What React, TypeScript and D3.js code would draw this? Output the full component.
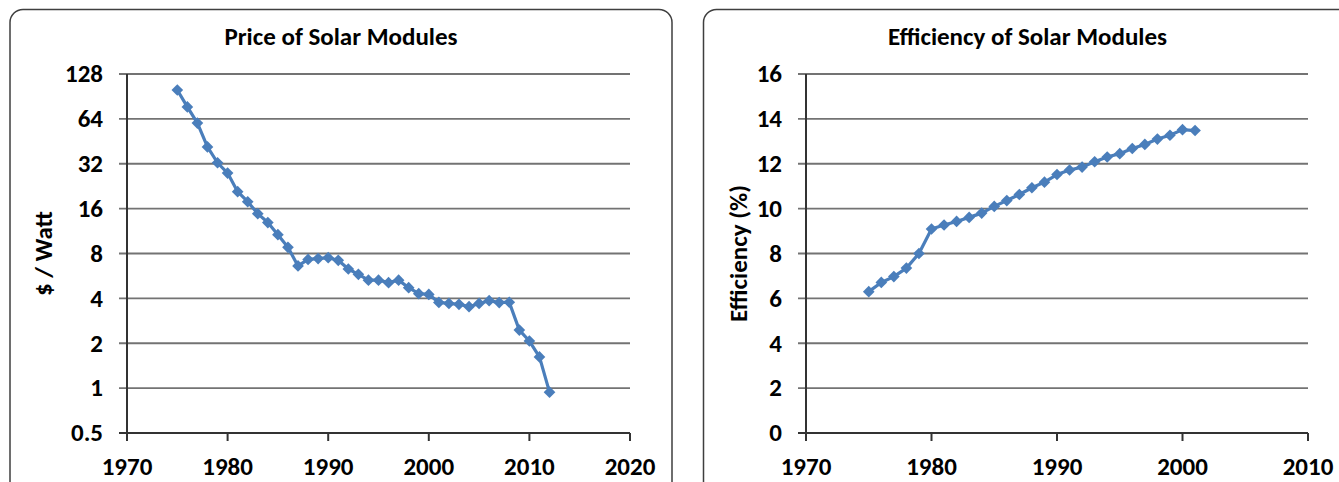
import React, { useEffect, useRef } from 'react';
import * as d3 from 'd3';

// price of solar modules, $ / Watt (log scale)
const priceYears = [1975, 1976, 1977, 1978, 1979, 1980, 1981, 1982, 1983, 1984, 1985, 1986, 1987, 1988, 1989, 1990, 1991, 1992, 1993, 1994, 1995, 1996, 1997, 1998, 1999, 2000, 2001, 2002, 2003, 2004, 2005, 2006, 2007, 2008, 2009, 2010, 2011, 2012];
const priceValues = [100, 77, 60, 41.5, 32.5, 27.7, 20.8, 17.8, 14.8, 12.9, 10.7, 8.8, 6.6, 7.3, 7.4, 7.5, 7.2, 6.3, 5.8, 5.3, 5.3, 5.1, 5.3, 4.72, 4.3, 4.25, 3.76, 3.7, 3.65, 3.52, 3.7, 3.86, 3.75, 3.77, 2.45, 2.07, 1.62, 0.94];
const priceTicks = [0.5, 1, 2, 4, 8, 16, 32, 64, 128];

// efficiency of solar modules, %
const effYears = [1975, 1976, 1977, 1978, 1979, 1980, 1981, 1982, 1983, 1984, 1985, 1986, 1987, 1988, 1989, 1990, 1991, 1992, 1993, 1994, 1995, 1996, 1997, 1998, 1999, 2000, 2001];
const effValues = [6.3, 6.71, 6.97, 7.35, 8.0, 9.09, 9.27, 9.43, 9.61, 9.8, 10.1, 10.36, 10.63, 10.93, 11.18, 11.52, 11.72, 11.85, 12.09, 12.3, 12.45, 12.68, 12.86, 13.1, 13.27, 13.52, 13.48];
const effTicks = [0, 2, 4, 6, 8, 10, 12, 14, 16];

const priceYearTicks = [1970, 1980, 1990, 2000, 2010, 2020];
const effYearTicks = [1970, 1980, 1990, 2000, 2010];

const FONT = "Carlito, Calibri, Lato, 'Open Sans', sans-serif";
const BLUE = '#4a7ebb';
const FS = '25px';

function drawPanel(svg, opts) {
    const { box, x, y, yTicks, xTicks, title, yLabel, labelOffset, years, values } = opts;
    const g = svg.append('g');
    const [x0, x1] = x.range();
    const [yBottom, yTop] = y.range();

    g.append('rect')
        .attr('x', box.x).attr('y', box.y)
        .attr('width', box.w).attr('height', box.h)
        .attr('rx', 13).attr('ry', 13)
        .attr('fill', '#fff')
        .attr('stroke', '#3f3f3f')
        .attr('stroke-width', 1.5);

    g.append('text')
        .attr('x', box.x + box.w / 2)
        .attr('y', 45)
        .attr('text-anchor', 'middle')
        .style('font-family', FONT)
        .style('font-weight', 700)
        .style('font-size', FS)
        .text(title);

    // gridlines (with the left tick folded in)
    g.selectAll('.grid')
        .data(yTicks.slice(1))
        .enter().append('line')
        .attr('x1', x0 - 8).attr('x2', x1)
        .attr('y1', d => y(d)).attr('y2', d => y(d))
        .attr('stroke', '#737373')
        .attr('stroke-width', 1.8);

    // x axis line + ticks
    g.append('line')
        .attr('x1', x0 - 8).attr('x2', x1)
        .attr('y1', yBottom).attr('y2', yBottom)
        .attr('stroke', '#333').attr('stroke-width', 2);
    g.selectAll('.xt')
        .data(xTicks)
        .enter().append('line')
        .attr('x1', d => x(d)).attr('x2', d => x(d))
        .attr('y1', yBottom).attr('y2', yBottom + 8)
        .attr('stroke', '#333').attr('stroke-width', 2);

    // y axis line
    g.append('line')
        .attr('x1', x0).attr('x2', x0)
        .attr('y1', yTop).attr('y2', yBottom + 8)
        .attr('stroke', '#333').attr('stroke-width', 2);

    g.selectAll('.yl')
        .data(yTicks)
        .enter().append('text')
        .attr('x', x0 - 24)
        .attr('y', d => y(d))
        .attr('dy', '0.33em')
        .attr('text-anchor', 'end')
        .style('font-family', FONT)
        .style('font-weight', 700)
        .style('font-size', FS)
        .text(d => String(d));

    g.selectAll('.xl')
        .data(xTicks)
        .enter().append('text')
        .attr('x', d => x(d))
        .attr('y', 475)
        .attr('text-anchor', 'middle')
        .style('font-family', FONT)
        .style('font-weight', 700)
        .style('font-size', FS)
        .text(d => d);

    g.append('text')
        .attr('transform', `translate(${x0 - labelOffset},${(yTop + yBottom) / 2}) rotate(-90)`)
        .attr('text-anchor', 'middle')
        .attr('dy', '0.33em')
        .style('font-family', FONT)
        .style('font-weight', 700)
        .style('font-size', FS)
        .text(yLabel);

    const pts = years.map((yr, i) => [yr, values[i]]);
    const line = d3.line().x(d => x(d[0])).y(d => y(d[1]));
    g.append('path')
        .datum(pts)
        .attr('d', line)
        .attr('fill', 'none')
        .attr('stroke', BLUE)
        .attr('stroke-width', 3.2)
        .attr('stroke-linejoin', 'round');

    const sym = d3.symbol().type(d3.symbolSquare).size(68);
    g.selectAll('.mk')
        .data(pts)
        .enter().append('path')
        .attr('d', sym)
        .attr('transform', d => `translate(${x(d[0])},${y(d[1])}) rotate(45)`)
        .attr('fill', BLUE);
}

export default function App() {
    const ref = useRef(null);

    useEffect(() => {
        const svg = d3.select(ref.current);
        svg.selectAll('*').remove();

        const xPrice = d3.scaleLinear().domain([1970, 2020]).range([127, 630]);
        const yPrice = d3.scaleLog().base(2).domain([0.5, 128]).range([433, 74]);
        drawPanel(svg, {
            box: { x: 10, y: 9.5, w: 662, h: 500 },
            x: xPrice, y: yPrice,
            yTicks: priceTicks, xTicks: priceYearTicks,
            title: 'Price of Solar Modules',
            yLabel: '$ / Watt',
            labelOffset: 83,
            years: priceYears, values: priceValues
        });

        const xEff = d3.scaleLinear().domain([1970, 2010]).range([806, 1308]);
        const yEff = d3.scaleLinear().domain([0, 16]).range([433, 74]);
        drawPanel(svg, {
            box: { x: 703.5, y: 9.5, w: 648, h: 500 },
            x: xEff, y: yEff,
            yTicks: effTicks, xTicks: effYearTicks,
            title: 'Efficiency of Solar Modules',
            yLabel: 'Efficiency (%)',
            labelOffset: 67,
            years: effYears, values: effValues
        });
    }, []);

    return (
        <svg ref={ref} width={1339} height={482}
            style={{ position: 'absolute', left: 0, top: 0, background: '#fff' }} />
    );
}
